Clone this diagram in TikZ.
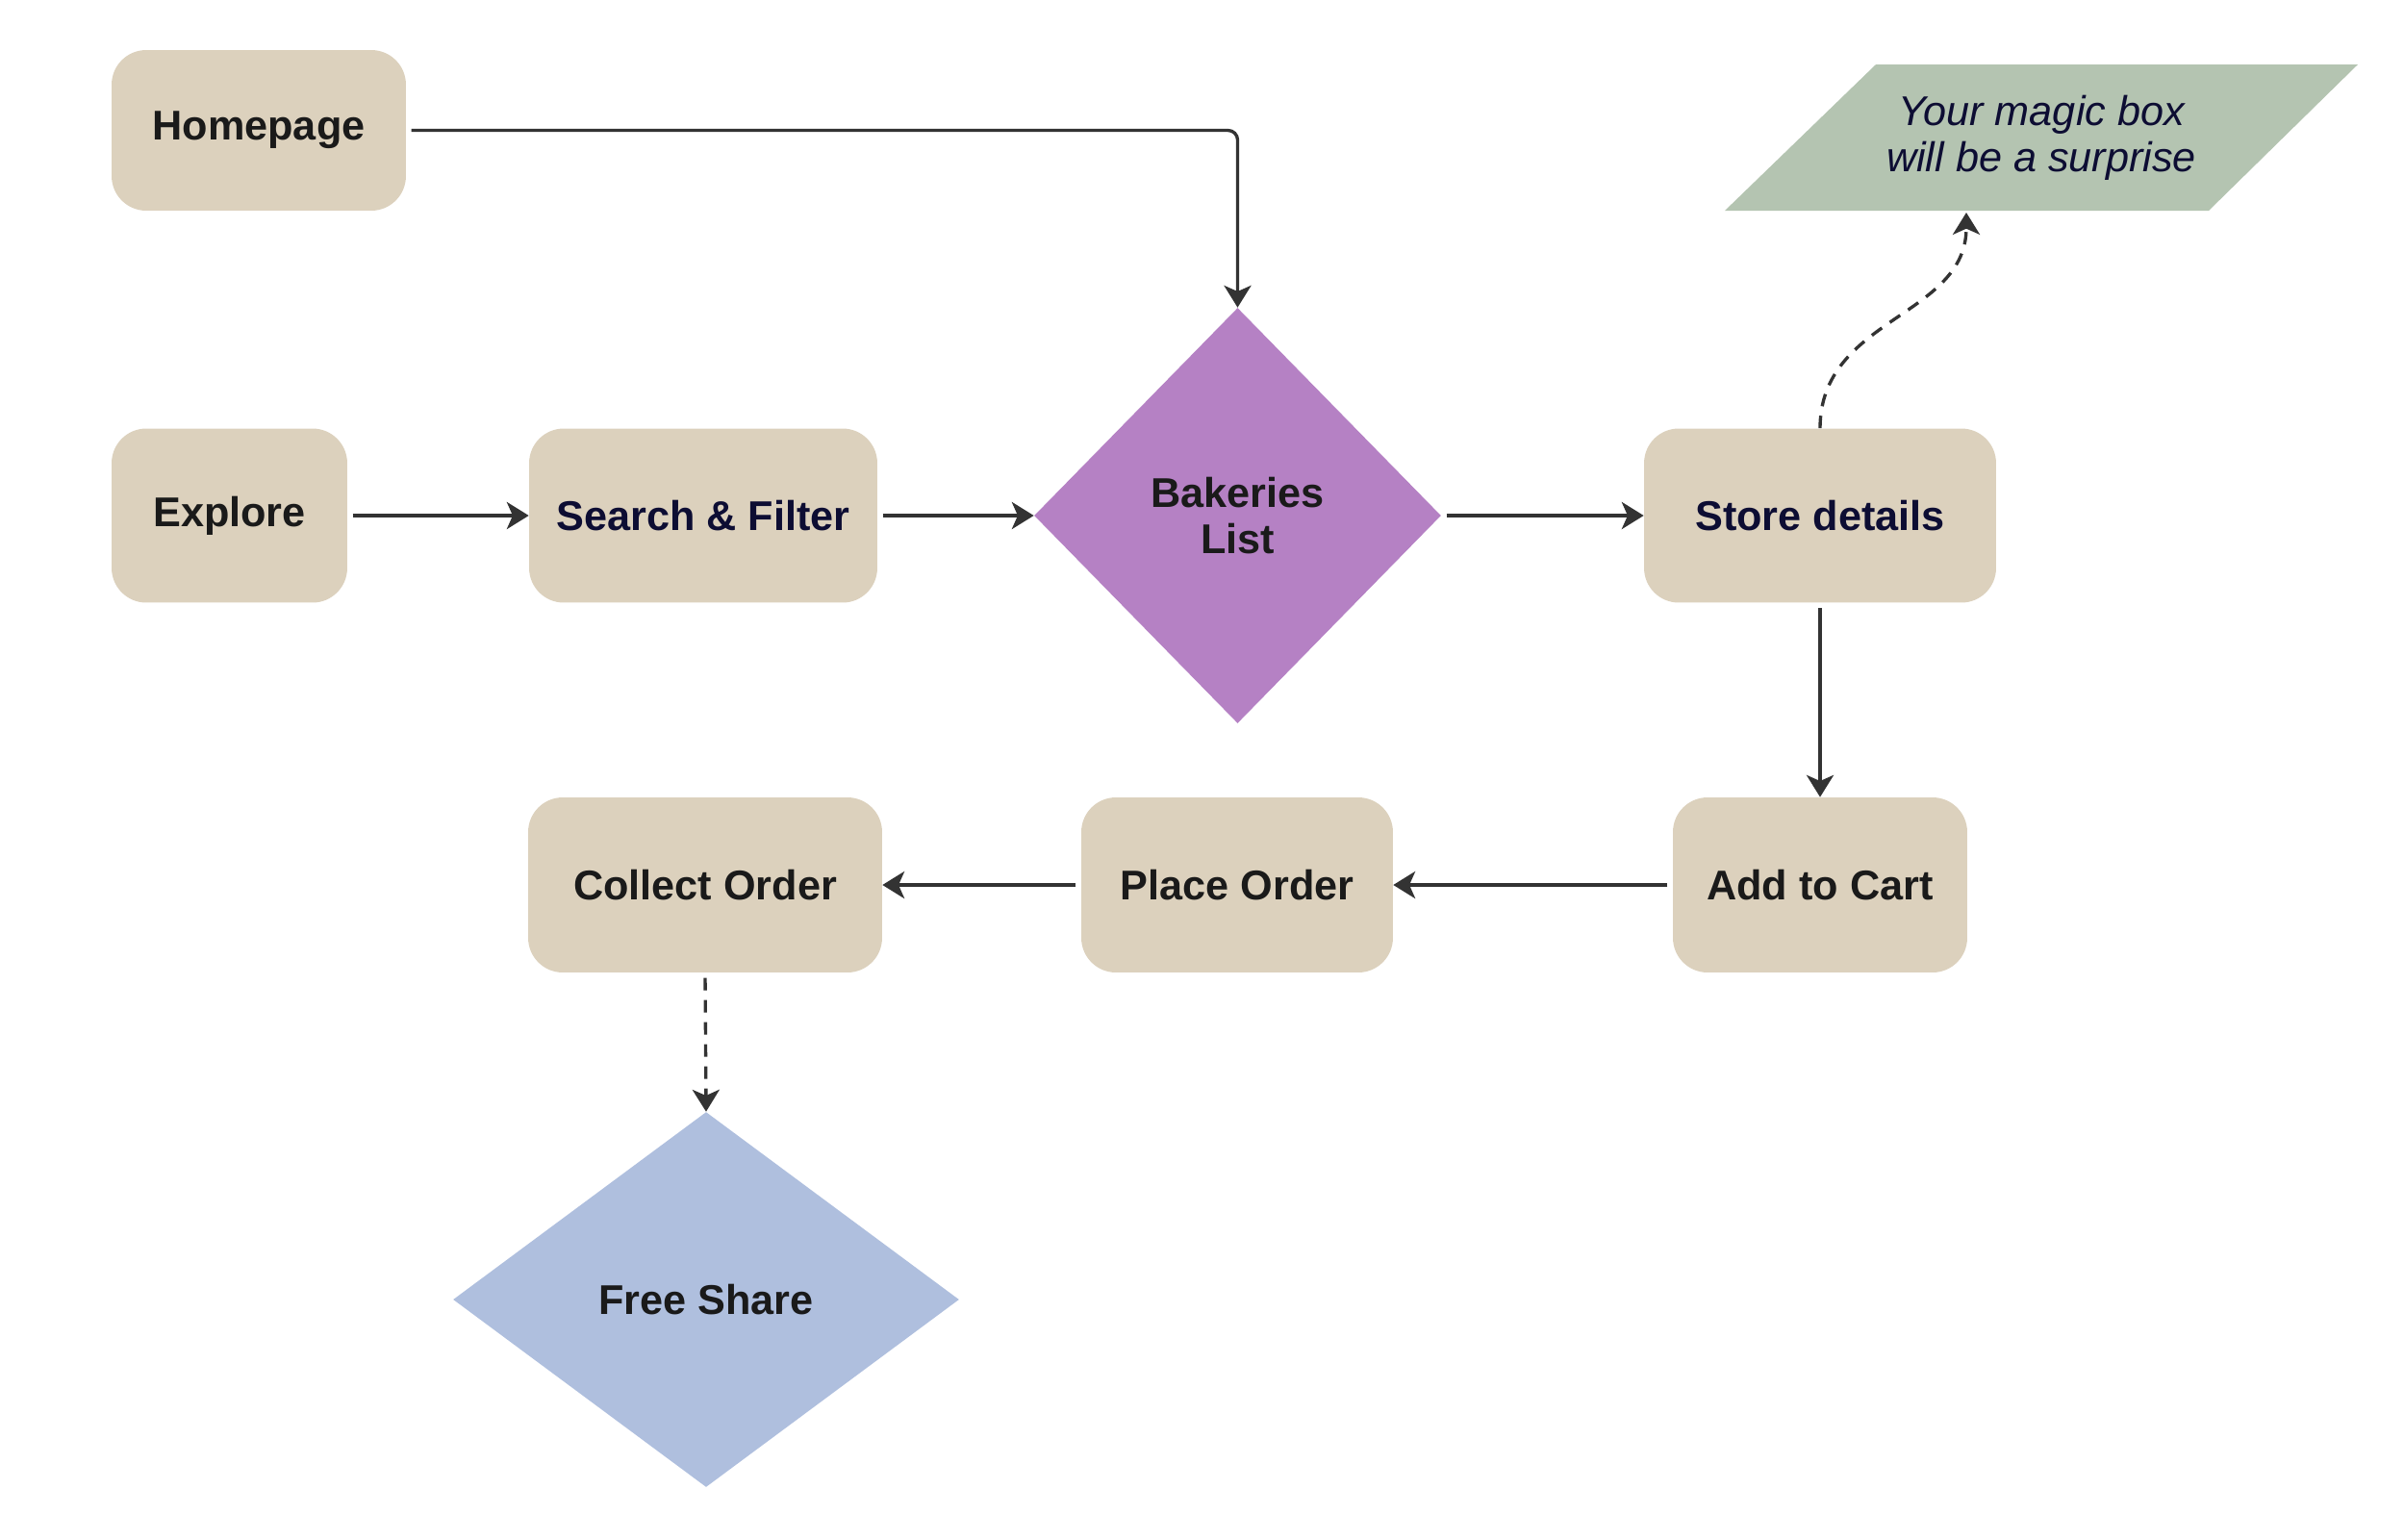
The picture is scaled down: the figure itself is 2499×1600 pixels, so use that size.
\documentclass[tikz,border=0pt]{standalone}
\usepackage{fontspec}
\setmainfont{Liberation Sans}
\usetikzlibrary{shapes.geometric,arrows.meta}
\definecolor{beige}{HTML}{DCD1BD}
\definecolor{purp}{HTML}{B581C4}
\definecolor{bluish}{HTML}{AFBFDE}
\definecolor{greenish}{HTML}{B4C4B1}
\definecolor{linec}{HTML}{333333}
\definecolor{darktext}{HTML}{1A1A1A}
\definecolor{navytext}{HTML}{0D0D33}
\tikzset{
  box/.style={rectangle, rounded corners=0.72cm, fill=beige, inner sep=0pt,
    font=\fontsize{24.6}{27.2}\selectfont\bfseries, text=darktext, align=center},
  dia/.style={diamond, inner sep=0pt, font=\fontsize{24.6}{27.2}\selectfont\bfseries,
    text=darktext, align=center},
  conn/.style={draw=linec, line width=1.9pt,
    -{Stealth[length=13pt, width=16pt, inset=3.5pt]}},
  dashconn/.style={conn, dash pattern=on 7.4pt off 5.7pt},
}
\begin{document}
\begin{tikzpicture}[x=0.02cm, y=-0.02cm]
\useasboundingbox (0,0) rectangle (2499,1600);
% nodes
\node[box, minimum width=6.12cm, minimum height=3.34cm] (home) at (269,135.5) {Homepage};
\node[box, minimum width=4.9cm, minimum height=3.62cm] (explore) at (238.5,536) {Explore};
\node[box, minimum width=7.24cm, minimum height=3.62cm, text=navytext] (search) at (731,536) {Search \& Filter};
\node[dia, fill=purp, minimum width=8.46cm, minimum height=8.64cm] (bakeries) at (1286.5,536) {Bakeries\\List};
\node[box, minimum width=7.32cm, minimum height=3.62cm, text=navytext] (store) at (1892,536) {Store details};
\fill[greenish] (1793,219) -- (1950,67) -- (2451,67) -- (2296,219) -- cycle;
\node[font=\fontsize{24.6}{27.2}\selectfont\itshape, text=navytext, align=center, inner sep=0pt] (magic) at (2122,143) {Your magic box\\will be a surprise};
\coordinate (magicin) at (2044,221);
\node[box, minimum width=6.12cm, minimum height=3.64cm] (cart) at (1892,920) {Add to Cart};
\node[box, minimum width=6.48cm, minimum height=3.64cm] (place) at (1286,920) {Place Order};
\node[box, minimum width=7.36cm, minimum height=3.64cm] (collect) at (733,920) {Collect Order};
\node[dia, fill=bluish, minimum width=10.52cm, minimum height=7.8cm] (free) at (734,1351) {Free Share};
% connectors
\draw[conn, rounded corners=0.2cm, shorten <=3pt] (home.east) -| (bakeries.north);
\draw[conn, shorten <=3pt] (explore.east) -- (search.west);
\draw[conn, shorten <=3pt] (search.east) -- (bakeries.west);
\draw[conn, shorten <=3pt] (bakeries.east) -- (store.west);
\draw[dashconn] (store.north) .. controls (1892,330) and (2044,330) .. (magicin);
\draw[conn, shorten <=3pt] (store.south) -- (cart.north);
\draw[conn, shorten <=3pt] (cart.west) -- (place.east);
\draw[conn, shorten <=3pt] (place.west) -- (collect.east);
\draw[dashconn, shorten <=3pt] (collect.south) -- (free.north);
\end{tikzpicture}
\end{document}
